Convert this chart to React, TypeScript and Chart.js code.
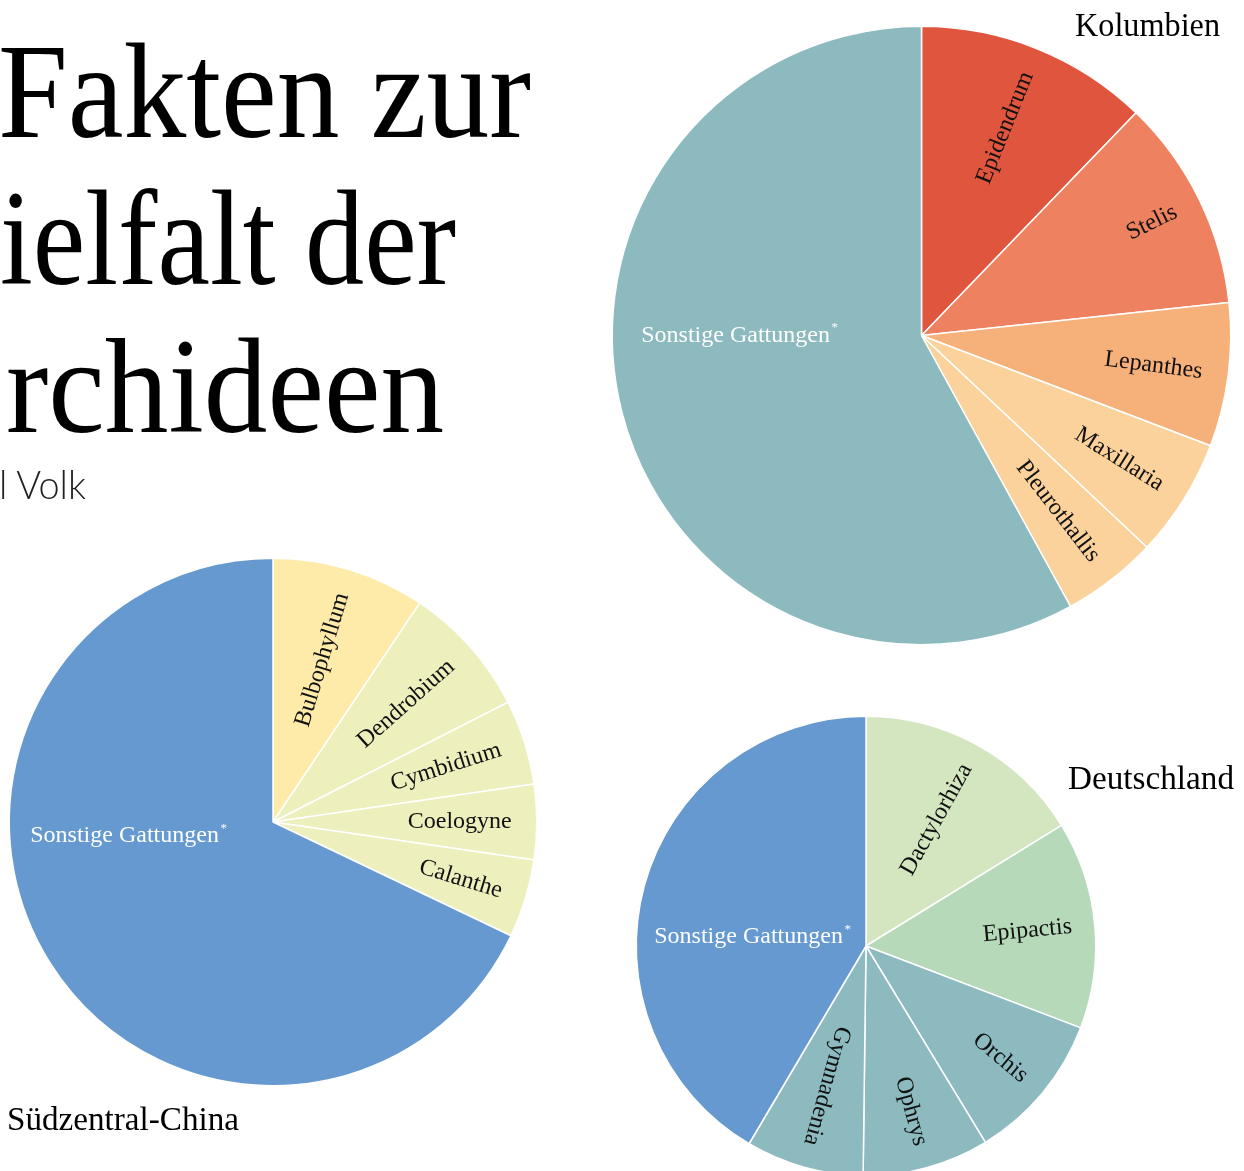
import React, { useEffect, useRef } from "react";
import { Chart, registerables } from "chart.js";

Chart.register(...registerables);

// ---------- data ----------
const kolumbienLabels = ["Epidendrum", "Stelis", "Lepanthes", "Maxillaria", "Pleurothallis", "Sonstige Gattungen*"];
const kolumbienValues = [12.2, 11.1, 7.5, 6.2, 5.0, 58.0];
const kolumbienColors = ["#E0553D", "#EE8260", "#F6B07A", "#FBD29B", "#FBD29B", "#8CBABF"];

const chinaLabels = ["Bulbophyllum", "Dendrobium", "Cymbidium", "Coelogyne", "Calanthe", "Sonstige Gattungen*"];
const chinaValues = [9.4, 8.1, 5.2, 4.6, 4.8, 67.9];
const chinaColors = ["#FEEBA9", "#EDEFBD", "#EDEFBD", "#EDEFBD", "#EDEFBD", "#6599CF"];

const deutschlandLabels = ["Dactylorhiza", "Epipactis", "Orchis", "Ophrys", "Gymnadenia", "Sonstige Gattungen*"];
const deutschlandValues = [16.2, 14.6, 10.5, 8.9, 8.3, 41.5];
const deutschlandColors = ["#D3E6C0", "#B5D9B9", "#8CBABF", "#8CBABF", "#8CBABF", "#6599CF"];

const titleLines = ["Fakten zur", "ielfalt der", "rchideen"];
const subtitle = "l Volk";

const SERIF = '"Liberation Serif", "Times New Roman", serif';

// ---------- label plugin ----------
const sliceLabelPlugin = {
  id: "sliceLabels",
  afterDatasetsDraw(chart: any, _args: any, opts: any) {
    const ctx: CanvasRenderingContext2D = chart.ctx;
    const meta = chart.getDatasetMeta(0);
    const labels: string[] = chart.data.labels;
    meta.data.forEach((arc: any, i: number) => {
      const p = arc.getProps(["x", "y", "startAngle", "endAngle", "outerRadius"], true);
      const label = String(labels[i]);
      ctx.save();
      if (i === labels.length - 1) {
        const main = label.replace(/\*$/, "");
        const x0 = p.x - p.outerRadius + opts.otherInset;
        const y0 = p.y + opts.otherDy;
        ctx.fillStyle = "#ffffff";
        ctx.font = `${opts.fontSize}px ${SERIF}`;
        ctx.textAlign = "left";
        ctx.textBaseline = "alphabetic";
        ctx.fillText(main, x0, y0);
        const w = ctx.measureText(main).width;
        if (label.endsWith("*")) {
          ctx.font = `${Math.round(opts.fontSize * 0.55)}px ${SERIF}`;
          ctx.fillText("*", x0 + w + 1.5, y0 - opts.fontSize * 0.42);
        }
      } else {
        const mid = (p.startAngle + p.endAngle) / 2;
        ctx.translate(p.x, p.y);
        ctx.rotate(mid);
        ctx.fillStyle = "#111111";
        ctx.font = `${opts.fontSize}px ${SERIF}`;
        ctx.textAlign = "right";
        ctx.textBaseline = "middle";
        ctx.fillText(label, p.outerRadius - opts.inset, 0);
      }
      ctx.restore();
    });
  },
};

type PieProps = {
  labels: string[];
  values: number[];
  colors: string[];
  cx: number;
  cy: number;
  r: number;
  inset: number;
  otherInset: number;
  otherDy: number;
};

function Pie({ labels, values, colors, cx, cy, r, inset, otherInset, otherDy }: PieProps) {
  const ref = useRef<HTMLCanvasElement | null>(null);
  const size = Math.ceil(2 * r + 24);
  useEffect(() => {
    if (!ref.current) return;
    const chart = new Chart(ref.current, {
      type: "pie",
      data: {
        labels,
        datasets: [
          {
            data: values,
            backgroundColor: colors,
            borderColor: "#ffffff",
            borderWidth: 1.5,
            hoverOffset: 0,
            offset: 0,
          },
        ],
      },
      options: {
        responsive: false,
        animation: false,
        radius: r + 0.75,
        layout: { padding: 0 },
        events: [],
        plugins: {
          legend: { display: false },
          tooltip: { enabled: false },
          title: { display: false },
          sliceLabels: { inset, otherInset, otherDy, fontSize: 24 },
        } as any,
      } as any,
      plugins: [sliceLabelPlugin as any],
    });
    return () => chart.destroy();
  }, []);
  return (
    <canvas
      ref={ref}
      width={size}
      height={size}
      style={{
        position: "absolute",
        left: cx - size / 2,
        top: cy - size / 2,
        width: size,
        height: size,
      }}
    />
  );
}

export default function App() {
  return (
    <div
      style={{
        position: "fixed",
        left: 0,
        top: 0,
        width: 1244,
        height: 1171,
        overflow: "hidden",
        background: "#ffffff",
      }}
    >
      <Pie
        labels={kolumbienLabels}
        values={kolumbienValues}
        colors={kolumbienColors}
        cx={921}
        cy={335}
        r={308.5}
        inset={26}
        otherInset={29}
        otherDy={6}
      />
      <Pie
        labels={chinaLabels}
        values={chinaValues}
        colors={chinaColors}
        cx={272.5}
        cy={822}
        r={263}
        inset={25}
        otherInset={21}
        otherDy={20}
      />
      <Pie
        labels={deutschlandLabels}
        values={deutschlandValues}
        colors={deutschlandColors}
        cx={866}
        cy={945.5}
        r={229}
        inset={23}
        otherInset={18}
        otherDy={-3}
      />
      <svg
        width={1244}
        height={1171}
        style={{ position: "absolute", left: 0, top: 0, pointerEvents: "none" }}
      >
        <g fill="#000000" style={{ fontFamily: SERIF }}>
          <text x={-2} y={137} fontSize={136} textLength={533} lengthAdjust="spacingAndGlyphs">
            {titleLines[0]}
          </text>
          <text x={0} y={284} fontSize={136} textLength={456} lengthAdjust="spacingAndGlyphs">
            {titleLines[1]}
          </text>
          <text x={6} y={432} fontSize={136} textLength={438} lengthAdjust="spacingAndGlyphs">
            {titleLines[2]}
          </text>
        </g>
        <text
          x={-1}
          y={499}
          fontSize={40}
          fill="#222222"
          style={{ fontFamily: "Lato, 'Open Sans', sans-serif", fontWeight: 300 }}
          textLength={87}
          lengthAdjust="spacingAndGlyphs"
        >
          {subtitle}
        </text>
        <g fill="#000000" style={{ fontFamily: SERIF }} fontSize={33}>
          <text x={1075} y={36} textLength={145} lengthAdjust="spacingAndGlyphs">
            Kolumbien
          </text>
          <text x={1068} y={789} textLength={166} lengthAdjust="spacingAndGlyphs">
            Deutschland
          </text>
          <text x={7} y={1130} textLength={232} lengthAdjust="spacingAndGlyphs">
            Südzentral-China
          </text>
        </g>
      </svg>
    </div>
  );
}
